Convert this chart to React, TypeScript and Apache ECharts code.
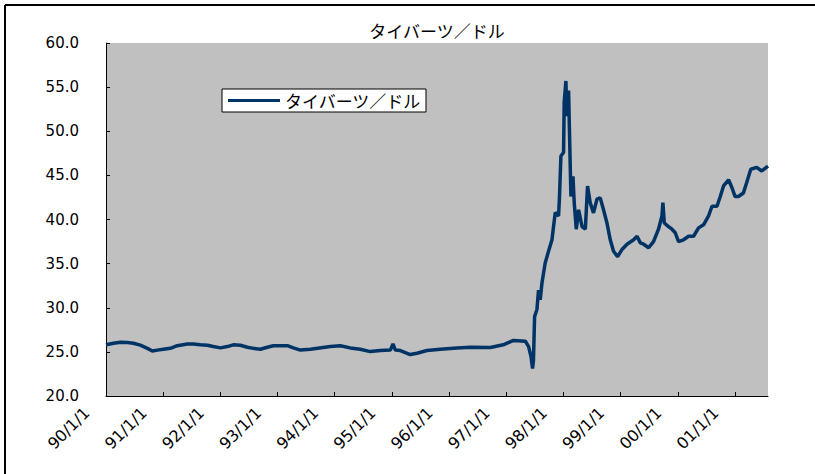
import React, { useEffect, useRef } from "react";
import * as echarts from "echarts";

const TITLE = "タイバーツ／ドル";
const SERIES_NAME = "タイバーツ／ドル";

const yearTickLabels = ["90/1/1", "91/1/1", "92/1/1", "93/1/1", "94/1/1", "95/1/1", "96/1/1", "97/1/1", "98/1/1", "99/1/1", "00/1/1", "01/1/1"];

const dates = [
  "1990-01-01", "1990-02-18", "1990-04-03", "1990-05-18", "1990-06-25", "1990-08-08", "1990-09-22", "1990-10-24", "1990-11-25",
  "1991-01-02", "1991-02-16", "1991-04-01", "1991-06-04", "1991-07-12", "1991-08-26", "1991-10-10", "1991-11-17",
  "1992-01-01", "1992-02-15", "1992-03-24", "1992-05-08", "1992-06-22", "1992-07-30", "1992-09-13", "1992-10-28", "1992-12-05",
  "1993-01-19", "1993-03-05", "1993-04-12", "1993-05-27", "1993-07-30", "1993-12-04",
  "1994-02-06", "1994-04-10", "1994-06-13", "1994-08-16", "1994-10-19", "1994-12-22",
  "1995-01-08", "1995-01-23", "1995-02-24", "1995-04-28", "1995-06-10", "1995-08-13", "1995-11-06",
  "1996-02-21", "1996-05-16", "1996-09-21", "1996-12-13",
  "1997-01-14", "1997-02-17", "1997-05-03", "1997-05-24", "1997-06-08", "1997-06-18", "1997-06-24", "1997-07-01",
  "1997-07-16", "1997-07-26", "1997-08-06", "1997-08-17", "1997-09-07", "1997-09-28", "1997-10-20", "1997-10-30",
  "1997-11-10", "1997-12-01", "1997-12-07", "1997-12-16",
  "1998-01-02", "1998-01-06", "1998-01-17", "1998-01-23", "1998-02-03", "1998-02-14", "1998-02-18", "1998-03-03",
  "1998-03-11", "1998-03-24", "1998-04-08", "1998-04-30", "1998-05-21", "1998-06-04", "1998-06-21", "1998-07-12",
  "1998-08-03", "1998-08-24", "1998-09-14", "1998-10-06", "1998-10-27", "1998-11-17", "1998-12-13",
  "1999-01-10", "1999-02-11", "1999-03-25", "1999-04-16", "1999-05-07", "1999-05-28", "1999-06-29", "1999-07-30",
  "1999-08-31", "1999-09-22", "1999-09-28", "1999-10-07", "1999-11-03", "1999-11-25", "1999-12-16",
  "2000-01-06", "2000-02-07", "2000-03-10", "2000-04-11", "2000-05-13", "2000-06-14", "2000-07-16", "2000-08-07",
  "2000-09-08", "2000-09-29", "2000-10-20", "2000-11-21", "2000-12-13",
  "2001-01-02", "2001-01-23", "2001-02-24", "2001-03-17", "2001-04-12", "2001-05-20", "2001-06-21", "2001-07-31",
];

const bahtPerDollar = [
  25.8, 25.97, 26.1, 26.05, 25.97, 25.76, 25.4, 25.1, 25.2,
  25.3, 25.4, 25.7, 25.9, 25.9, 25.8, 25.75, 25.6,
  25.45, 25.6, 25.8, 25.75, 25.53, 25.4, 25.3, 25.53, 25.7,
  25.7, 25.7, 25.45, 25.2, 25.3, 25.6,
  25.7, 25.45, 25.3, 25.03, 25.15, 25.2,
  25.9, 25.2, 25.15, 24.7, 24.85, 25.15, 25.3,
  25.45, 25.53, 25.5, 25.8,
  26.05, 26.3, 26.2, 25.6, 24.47, 23.1, 24.1, 29.0,
  29.8, 32.0, 30.9, 32.8, 35.1, 36.4, 37.7, 39.2,
  40.8, 40.4, 42.6, 47.2,
  47.6, 53.3, 55.7, 51.7, 54.6, 45.7, 42.6, 44.9,
  41.9, 38.9, 41.1, 39.2, 38.9, 43.8, 41.9, 40.75,
  42.3, 42.45, 41.1, 39.6, 37.7, 36.4, 35.8,
  36.6, 37.2, 37.7, 38.1, 37.35, 37.2, 36.8, 37.5,
  38.9, 40.4, 41.9, 39.6, 39.2, 38.9, 38.5,
  37.5, 37.7, 38.1, 38.1, 39.05, 39.4, 40.4, 41.5,
  41.5, 42.6, 43.8, 44.5, 43.6,
  42.6, 42.6, 43.0, 44.2, 45.7, 45.9, 45.5, 46.05,
];

const X_START = "1990-01-01";
const X_END = "2001-07-31";

function toYear(s: string): number {
  const [y, m, d] = s.split("-").map(Number);
  const start = Date.UTC(y, 0, 1);
  const next = Date.UTC(y + 1, 0, 1);
  return y + (Date.UTC(y, m - 1, d) - start) / (next - start);
}

export default function App() {
  const ref = useRef<HTMLDivElement>(null);
  useEffect(() => {
    if (!ref.current) return;
    const chart = echarts.init(ref.current, null, { renderer: "svg" });
    const data = dates.map((d, i) => [toYear(d), bahtPerDollar[i]]);
    const xMin = toYear(X_START);
    const xMax = toYear(X_END);
    chart.setOption({
      animation: false,
      backgroundColor: "#ffffff",
      title: {
        text: TITLE,
        left: 432,
        top: 17,
        textAlign: "center",
        textStyle: { fontFamily: "Noto Sans CJK JP", fontSize: 17, fontWeight: "normal", color: "#000" },
      },
      legend: {
        orient: "horizontal",
        left: 222,
        top: 89,
        padding: [3, 5, 3, 6],
        itemWidth: 52,
        itemHeight: 3,
        itemGap: 4,
        icon: "rect",
        backgroundColor: "#ffffff",
        borderColor: "#000000",
        borderWidth: 1,
        borderRadius: 0,
        textStyle: { fontFamily: "Noto Sans CJK JP", fontSize: 17, color: "#000" },
        data: [SERIES_NAME],
      },
      grid: {
        left: 106,
        right: 47,
        top: 43,
        bottom: 78,
        show: true,
        backgroundColor: "#C0C0C0",
        borderWidth: 0,
      },
      xAxis: {
        type: "value",
        min: xMin,
        max: xMax,
        interval: 1,
        splitLine: { show: false },
        axisLine: { show: true, lineStyle: { color: "#000", width: 1 } },
        axisTick: { show: true, inside: true, length: 4, lineStyle: { color: "#000" } },
        axisLabel: {
          rotate: 45,
          margin: -5,
          padding: [0, 27, 0, 0],
          fontFamily: "DejaVu Sans",
          fontSize: 16,
          color: "#000",
          showMaxLabel: false,
          formatter: (v: number) => {
            const idx = Math.round(v - 1990);
            return Math.abs(v - Math.round(v)) < 1e-6 && yearTickLabels[idx] ? yearTickLabels[idx] : "";
          },
        },
      },
      yAxis: {
        type: "value",
        min: 20,
        max: 60,
        interval: 5,
        splitLine: { show: false },
        axisLine: { show: true, lineStyle: { color: "#000", width: 1 } },
        axisTick: { show: true, inside: true, length: 4, lineStyle: { color: "#000" } },
        axisLabel: {
          margin: 27,
          fontFamily: "DejaVu Sans",
          fontSize: 15,
          color: "#000",
          formatter: (v: number) => v.toFixed(1),
        },
      },
      graphic: [
        { type: "line", shape: { x1: 5, y1: 5, x2: 815, y2: 5 }, style: { stroke: "#000", lineWidth: 2 } },
        { type: "line", shape: { x1: 5, y1: 5, x2: 5, y2: 474 }, style: { stroke: "#000", lineWidth: 2 } },
      ],
      series: [
        {
          name: SERIES_NAME,
          type: "line",
          data,
          symbol: "none",
          lineStyle: { color: "#003366", width: 3.5 },
          itemStyle: { color: "#003366" },
        },
      ],
    });
    return () => chart.dispose();
  }, []);
  return <div ref={ref} style={{ width: 815, height: 474, position: "absolute", left: 0, top: 0 }} />;
}
